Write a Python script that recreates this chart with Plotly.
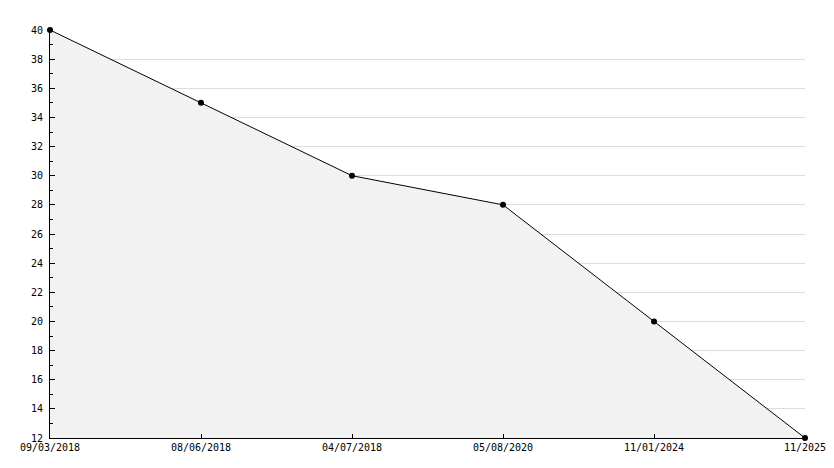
import plotly.graph_objects as go

dates = ["09/03/2018", "08/06/2018", "04/07/2018", "05/08/2020", "11/01/2024", "11/2025"]
values = [40, 35, 30, 28, 20, 12]
y_ticks = list(range(12, 41, 2))

fig = go.Figure()
fig.add_trace(go.Scatter(
    x=dates, y=values, mode="lines+markers",
    line=dict(color="black", width=1),
    marker=dict(color="black", size=6, symbol="circle"),
    fill="tozeroy", fillcolor="#f2f2f2",
    cliponaxis=False, showlegend=False,
))

fig.update_layout(
    width=834, height=468,
    margin=dict(l=50, r=29, t=30, b=30),
    plot_bgcolor="white", paper_bgcolor="white",
    font=dict(family="DejaVu Sans Mono", size=10, color="black"),
    xaxis=dict(
        type="category", range=[0, 5], showgrid=False,
        showline=True, linecolor="black", linewidth=1,
        ticks="inside", ticklen=4, tickcolor="black",
        zeroline=False, automargin=False,
    ),
    yaxis=dict(
        range=[12, 40], tickvals=y_ticks,
        showgrid=True, gridcolor="#dcdcdc", gridwidth=1,
        showline=True, linecolor="black", linewidth=1,
        ticks="inside", ticklen=5, tickcolor="black",
        minor=dict(ticks="inside", ticklen=3, dtick=1, tickcolor="black", showgrid=False),
        zeroline=False, ticklabelstandoff=4, automargin=False,
    ),
)

fig.write_html("out.html", config={"displayModeBar": False},
               post_script="document.body.style.margin='0px';")
